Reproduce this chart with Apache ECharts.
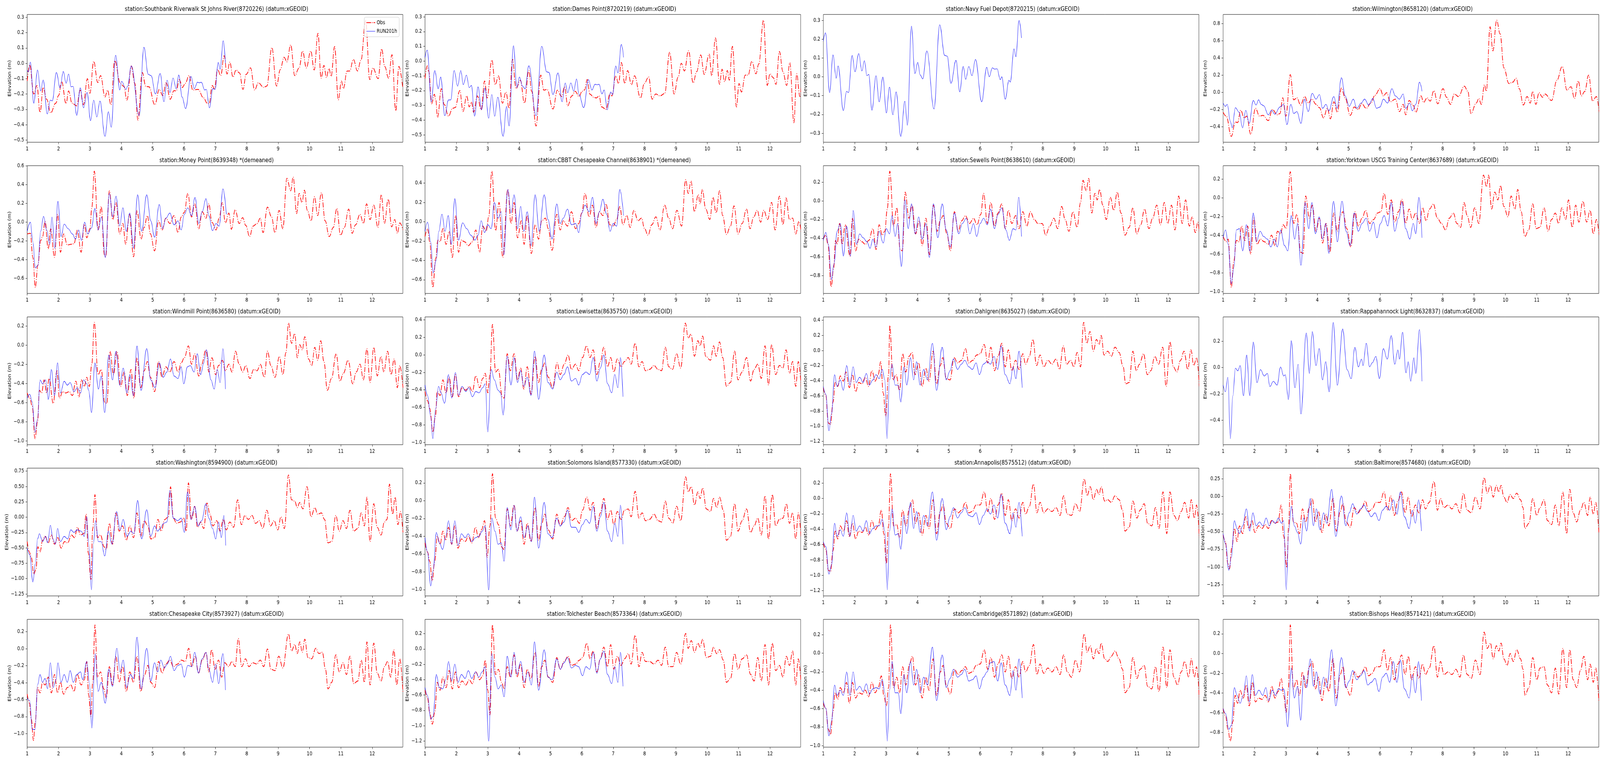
<!DOCTYPE html>
<html><head><meta charset="utf-8">
<script src="https://cdn.jsdelivr.net/npm/echarts@6/dist/echarts.min.js"></script>
<style>html,body{margin:0;padding:0;overflow:hidden;background:#fff}#wrap{position:relative;overflow:hidden;width:5150px;height:1950px}#c{position:absolute;left:0;top:0;width:5150px;height:1950px;transform-origin:0 0}</style>
</head><body><div id="wrap"><div id="c"></div></div>
<script>
// ---------------- DATA (time in days, elevation in m) ----------------
const titles = [
"station:Southbank Riverwalk St Johns River(8720226) (datum:xGEOID)",
"station:Dames Point(8720219) (datum:xGEOID)",
"station:Navy Fuel Depot(8720215) (datum:xGEOID)",
"station:Wilmington(8658120) (datum:xGEOID)",
"station:Money Point(8639348) *(demeaned)",
"station:CBBT Chesapeake Channel(8638901) *(demeaned)",
"station:Sewells Point(8638610) (datum:xGEOID)",
"station:Yorktown USCG Training Center(8637689) (datum:xGEOID)",
"station:Windmill Point(8636580) (datum:xGEOID)",
"station:Lewisetta(8635750) (datum:xGEOID)",
"station:Dahlgren(8635027) (datum:xGEOID)",
"station:Rappahannock Light(8632837) (datum:xGEOID)",
"station:Washington(8594900) (datum:xGEOID)",
"station:Solomons Island(8577330) (datum:xGEOID)",
"station:Annapolis(8575512) (datum:xGEOID)",
"station:Baltimore(8574680) (datum:xGEOID)",
"station:Chesapeake City(8573927) (datum:xGEOID)",
"station:Tolchester Beach(8573364) (datum:xGEOID)",
"station:Cambridge(8571892) (datum:xGEOID)",
"station:Bishops Head(8571421) (datum:xGEOID)"
];
const seriesNames = ["Obs", "RUN201h"];
const xTicks = [1,2,3,4,5,6,7,8,9,10,11,12];
const xRange = [1, 12.975];
const yTicks = [
[-0.5,-0.4,-0.3,-0.2,-0.1,0,0.1,0.2,0.3],
[-0.5,-0.4,-0.3,-0.2,-0.1,0,0.1,0.2,0.3],
[-0.3,-0.2,-0.1,0,0.1,0.2,0.3],
[-0.4,-0.2,0,0.2,0.4,0.6,0.8],
[-0.6,-0.4,-0.2,0,0.2,0.4,0.6],
[-0.6,-0.4,-0.2,0,0.2,0.4],
[-0.8,-0.6,-0.4,-0.2,0,0.2],
[-1.0,-0.8,-0.6,-0.4,-0.2,0,0.2],
[-1.0,-0.8,-0.6,-0.4,-0.2,0,0.2],
[-1.0,-0.8,-0.6,-0.4,-0.2,0,0.2,0.4],
[-1.2,-1.0,-0.8,-0.6,-0.4,-0.2,0,0.2,0.4],
[-0.4,-0.2,0,0.2],
[-1.25,-1.0,-0.75,-0.5,-0.25,0,0.25,0.5,0.75],
[-1.0,-0.8,-0.6,-0.4,-0.2,0,0.2],
[-1.2,-1.0,-0.8,-0.6,-0.4,-0.2,0,0.2],
[-1.25,-1.0,-0.75,-0.5,-0.25,0,0.25],
[-1.0,-0.8,-0.6,-0.4,-0.2,0,0.2],
[-1.2,-1.0,-0.8,-0.6,-0.4,-0.2,0,0.2],
[-1.0,-0.8,-0.6,-0.4,-0.2,0,0.2],
[-0.8,-0.6,-0.4,-0.2,0,0.2]
];
const yDecimals = [1,1,1,1,1,1,1,1,1,1,1,1,2,1,1,2,1,1,1,1];
const yLimits = [
[-0.5145,0.3187],[-0.550,0.316],[-0.348,0.332],[-0.5825,0.9065],
[-0.760,0.6028],[-0.742,0.580],[-0.990,0.376],[-1.021,0.345],
[-1.040,0.297],[-1.027,0.434],[-1.243,0.443],[-0.5855,0.3845],
[-1.282,0.799],[-1.071,0.366],[-1.268,0.394],[-1.409,0.400],
[-1.160,0.346],[-1.280,0.386],[-1.017,0.367],[-0.948,0.3455]
];

const southbankObs = [[1.00,-0.115],[1.08,-0.01],[1.21,-0.20],[1.31,-0.145],[1.41,-0.32],[1.51,-0.157],[1.62,-0.234],[1.75,-0.323],[1.91,-0.26],[2.00,-0.21],[2.10,-0.12],[2.24,-0.263],[2.32,-0.18],[2.43,-0.26],[2.58,-0.277],[2.69,-0.175],[2.79,-0.27],[2.92,-0.10],[3.00,-0.195],[3.12,0.013],[3.25,-0.125],[3.34,-0.08],[3.48,-0.22],[3.56,-0.175],[3.67,-0.27],[3.79,0.017],[3.97,-0.13],[4.08,-0.15],[4.18,-0.24],[4.32,-0.017],[4.43,-0.13],[4.53,-0.37],[4.67,-0.06],[4.78,-0.15],[4.88,-0.153],[5.07,-0.27],[5.21,-0.17],[5.32,-0.21],[5.43,-0.127],[5.56,-0.234],[5.68,-0.178],[5.75,-0.18],[5.85,-0.106],[5.95,-0.157],[6.04,-0.13],[6.16,-0.08],[6.28,-0.174],[6.45,-0.17],[6.62,-0.225],[6.74,-0.26],[6.80,-0.263],[6.90,-0.145],[6.97,-0.165],[7.07,-0.04],[7.17,-0.08],[7.28,0.05],[7.37,-0.07],[7.46,0.008],[7.56,-0.09],[7.66,-0.043],[7.77,-0.063],[7.88,-0.17],[7.98,-0.072],[8.12,-0.03],[8.25,-0.174],[8.37,-0.127],[8.54,-0.157],[8.64,-0.148],[8.80,0.103],[8.95,-0.148],[9.07,-0.04],[9.19,0.04],[9.28,0.01],[9.40,0.12],[9.53,-0.08],[9.67,-0.03],[9.78,0.08],[9.90,-0.03],[10.04,0.08],[10.15,-0.043],[10.27,0.196],[10.37,-0.097],[10.46,-0.013],[10.54,-0.093],[10.62,-0.034],[10.69,-0.085],[10.80,0.11],[10.92,-0.238],[11.02,-0.115],[11.08,-0.165],[11.20,-0.05],[11.28,-0.05],[11.40,0.025],[11.53,-0.05],[11.64,0.02],[11.79,0.277],[11.92,-0.106],[12.02,-0.03],[12.19,-0.10],[12.30,0.094],[12.40,-0.02],[12.52,-0.097],[12.63,0.056],[12.75,-0.31],[12.85,-0.02],[12.97,-0.153]];
const southbankRun = [[1.00,-0.046],[1.04,-0.055],[1.10,0.008],[1.21,-0.26],[1.33,-0.043],[1.43,-0.18],[1.51,-0.108],[1.64,-0.33],[1.74,-0.24],[1.80,-0.245],[1.93,-0.06],[2.05,-0.16],[2.15,-0.053],[2.24,-0.13],[2.32,-0.07],[2.40,-0.153],[2.46,-0.15],[2.58,-0.34],[2.69,-0.16],[2.80,-0.29],[2.91,-0.19],[3.02,-0.374],[3.12,-0.24],[3.22,-0.35],[3.32,-0.246],[3.48,-0.476],[3.59,-0.315],[3.68,-0.417],[3.82,0.053],[3.95,-0.174],[4.01,-0.117],[4.15,-0.17],[4.20,-0.15],[4.32,-0.017],[4.57,-0.34],[4.72,0.105],[4.86,-0.072],[4.95,-0.08],[5.09,-0.20],[5.24,-0.066],[5.36,-0.25],[5.46,-0.11],[5.55,-0.19],[5.65,-0.096],[5.75,-0.165],[5.83,-0.076],[5.94,-0.22],[6.05,-0.295],[6.22,-0.086],[6.33,-0.165],[6.43,-0.123],[6.49,-0.127],[6.55,-0.123],[6.66,-0.174],[6.71,-0.17],[6.81,-0.29],[6.92,-0.165],[6.99,-0.17],[7.09,0.006],[7.15,-0.038],[7.25,0.147],[7.32,0.0]];

const damesObs = [[1.00,-0.117],[1.07,-0.032],[1.12,-0.07],[1.21,-0.29],[1.30,-0.225],[1.34,-0.26],[1.40,-0.382],[1.52,-0.187],[1.61,-0.294],[1.75,-0.373],[1.88,-0.32],[1.96,-0.315],[2.11,-0.2],[2.21,-0.342],[2.33,-0.236],[2.41,-0.31],[2.48,-0.277],[2.55,-0.347],[2.67,-0.236],[2.79,-0.33],[2.90,-0.135],[2.98,-0.25],[3.13,0.007],[3.24,-0.16],[3.34,-0.1],[3.47,-0.285],[3.58,-0.21],[3.68,-0.32],[3.79,0.012],[3.90,-0.187],[4.04,-0.13],[4.17,-0.285],[4.31,-0.064],[4.40,-0.205],[4.54,-0.44],[4.69,-0.095],[4.79,-0.197],[4.89,-0.192],[5.08,-0.325],[5.22,-0.197],[5.35,-0.24],[5.45,-0.175],[5.55,-0.303],[5.68,-0.236],[5.79,-0.205],[5.91,-0.24],[6.01,-0.205],[6.09,-0.195],[6.17,-0.125],[6.26,-0.225],[6.38,-0.245],[6.46,-0.25],[6.55,-0.236],[6.63,-0.31],[6.77,-0.327],[6.90,-0.22],[6.96,-0.236],[7.08,-0.10],[7.17,-0.152],[7.26,-0.01],[7.37,-0.152],[7.46,-0.064],[7.58,-0.16],[7.68,-0.10],[7.87,-0.25],[7.99,-0.152],[8.13,-0.108],[8.24,-0.258],[8.36,-0.223],[8.49,-0.236],[8.64,-0.22],[8.80,0.06],[8.94,-0.223],[9.07,-0.108],[9.17,-0.015],[9.27,-0.067],[9.40,0.07],[9.55,-0.148],[9.66,-0.072],[9.79,0.042],[9.90,-0.09],[10.06,0.047],[10.14,-0.10],[10.26,0.157],[10.39,-0.157],[10.47,-0.055],[10.55,-0.14],[10.64,-0.064],[10.70,-0.13],[10.80,0.10],[10.93,-0.311],[11.01,-0.152],[11.09,-0.21],[11.21,-0.095],[11.30,-0.095],[11.42,-0.002],[11.55,-0.086],[11.64,-0.02],[11.79,0.277],[11.91,-0.165],[12.00,-0.086],[12.10,-0.112],[12.19,-0.157],[12.30,0.065],[12.41,-0.072],[12.53,-0.165],[12.63,-0.01],[12.76,-0.418],[12.85,-0.086],[12.95,-0.24],[13.0,-0.16]];
const damesRun = [[1.00,0.025],[1.07,0.074],[1.20,-0.276],[1.31,-0.064],[1.42,-0.188],[1.50,-0.108],[1.63,-0.37],[1.75,-0.263],[1.82,-0.263],[1.93,-0.064],[2.04,-0.17],[2.14,-0.064],[2.22,-0.16],[2.32,-0.095],[2.41,-0.18],[2.48,-0.165],[2.58,-0.374],[2.69,-0.175],[2.80,-0.33],[2.91,-0.183],[3.03,-0.387],[3.13,-0.227],[3.22,-0.374],[3.32,-0.245],[3.49,-0.51],[3.60,-0.307],[3.68,-0.44],[3.82,0.104],[3.93,-0.18],[4.01,-0.108],[4.11,-0.17],[4.19,-0.188],[4.31,-0.032],[4.54,-0.37],[4.72,0.10],[4.88,-0.073],[4.95,-0.077],[5.08,-0.227],[5.24,-0.08],[5.37,-0.276],[5.47,-0.148],[5.55,-0.214],[5.65,-0.148],[5.74,-0.205],[5.83,-0.121],[5.91,-0.227],[6.06,-0.316],[6.21,-0.125],[6.32,-0.196],[6.42,-0.157],[6.49,-0.16],[6.55,-0.157],[6.64,-0.223],[6.71,-0.196],[6.81,-0.33],[6.92,-0.21],[6.98,-0.227],[7.08,-0.033],[7.15,-0.08],[7.26,0.113],[7.33,0.025]];

const navyRun = [[1.00,0.19],[1.07,0.234],[1.20,-0.084],[1.31,0.117],[1.41,-0.008],[1.47,0.058],[1.64,-0.18],[1.74,-0.077],[1.80,-0.084],[1.92,0.114],[2.01,0.027],[2.13,0.124],[2.23,0.031],[2.31,0.086],[2.39,0.006],[2.45,0.013],[2.55,-0.178],[2.68,0.006],[2.78,-0.133],[2.90,-0.001],[3.01,-0.192],[3.11,-0.055],[3.22,-0.202],[3.32,-0.08],[3.47,-0.317],[3.60,-0.13],[3.68,-0.258],[3.81,0.27],[3.92,0.017],[4.01,0.077],[4.09,0.01],[4.17,-0.011],[4.30,0.138],[4.53,-0.171],[4.71,0.277],[4.87,0.114],[4.95,0.11],[5.07,-0.035],[5.23,0.088],[5.35,-0.08],[5.46,0.056],[5.54,-0.013],[5.64,0.055],[5.74,0.006],[5.85,0.093],[6.05,-0.133],[6.21,0.051],[6.29,0.0],[6.39,0.048],[6.46,0.041],[6.54,0.043],[6.64,-0.015],[6.69,0.0],[6.80,-0.119],[6.92,-0.018],[6.96,-0.028],[7.08,0.149],[7.14,0.107],[7.24,0.30],[7.32,0.207]];

const wilmingtonObs = [[1.00,-0.233],[1.10,-0.28],[1.26,-0.514],[1.39,-0.347],[1.46,-0.354],[1.56,-0.21],[1.67,-0.30],[1.75,-0.278],[1.88,-0.49],[2.03,-0.187],[2.16,-0.278],[2.27,-0.27],[2.44,-0.33],[2.57,-0.202],[2.73,-0.263],[2.81,-0.248],[2.90,-0.065],[3.00,-0.278],[3.14,0.205],[3.25,-0.088],[3.35,-0.065],[3.47,-0.149],[3.60,-0.05],[3.71,-0.126],[3.83,-0.08],[3.96,-0.141],[4.07,-0.18],[4.20,-0.30],[4.32,-0.187],[4.42,-0.31],[4.53,-0.111],[4.64,-0.233],[4.77,0.049],[4.89,-0.065],[5.05,-0.27],[5.18,-0.172],[5.30,-0.202],[5.42,-0.134],[5.56,-0.187],[5.71,-0.126],[5.84,-0.035],[6.00,0.041],[6.11,-0.043],[6.21,-0.005],[6.33,-0.111],[6.49,-0.08],[6.62,-0.225],[6.74,-0.141],[6.82,-0.263],[6.93,-0.096],[7.07,-0.157],[7.14,-0.233],[7.31,-0.043],[7.39,-0.119],[7.50,-0.065],[7.60,-0.103],[7.72,0.018],[7.84,-0.134],[8.01,0.041],[8.12,-0.058],[8.25,-0.141],[8.37,-0.02],[8.50,-0.05],[8.69,0.071],[8.80,0.011],[8.90,-0.248],[9.07,-0.126],[9.15,-0.073],[9.23,-0.141],[9.33,0.087],[9.39,0.011],[9.51,0.764],[9.60,0.482],[9.72,0.84],[9.83,0.68],[9.95,0.284],[10.11,0.102],[10.23,0.117],[10.34,0.163],[10.44,0.041],[10.57,-0.149],[10.69,-0.05],[10.79,-0.126],[10.87,0.011],[10.97,-0.141],[11.07,-0.005],[11.18,-0.058],[11.26,-0.02],[11.47,-0.096],[11.64,0.139],[11.81,0.30],[11.96,0.026],[12.09,0.064],[12.20,-0.073],[12.32,0.132],[12.42,-0.043],[12.53,0.011],[12.65,0.20],[12.78,-0.103],[12.90,-0.05],[12.99,-0.233]];
const wilmingtonRun = [[1.00,-0.126],[1.07,-0.164],[1.13,-0.141],[1.23,-0.34],[1.29,-0.415],[1.39,-0.18],[1.51,-0.233],[1.62,-0.415],[1.72,-0.21],[1.83,-0.362],[1.96,-0.096],[2.05,-0.149],[2.13,-0.088],[2.21,-0.141],[2.29,-0.157],[2.44,-0.263],[2.54,-0.21],[2.65,-0.256],[2.81,-0.172],[2.93,-0.141],[3.03,-0.377],[3.16,-0.141],[3.25,-0.248],[3.35,-0.225],[3.48,-0.362],[3.60,-0.08],[3.71,-0.225],[3.84,-0.012],[3.96,-0.08],[4.07,-0.027],[4.17,-0.187],[4.28,-0.141],[4.37,-0.217],[4.53,-0.05],[4.63,-0.187],[4.77,0.17],[4.89,-0.043],[5.02,-0.164],[5.15,-0.08],[5.26,-0.187],[5.40,-0.126],[5.51,-0.08],[5.64,-0.149],[5.77,-0.073],[5.89,-0.187],[6.00,-0.172],[6.11,-0.08],[6.24,-0.126],[6.38,0.041],[6.49,-0.043],[6.62,-0.08],[6.74,-0.02],[6.82,-0.187],[6.95,-0.126],[7.03,-0.217],[7.14,-0.141],[7.26,0.117],[7.34,0.011]];

const moneyObs = [[1.00,-0.125],[1.10,-0.118],[1.18,-0.375],[1.26,-0.696],[1.34,-0.46],[1.43,-0.195],[1.49,-0.153],[1.57,0.007],[1.67,-0.285],[1.75,-0.07],[1.87,-0.375],[1.97,0.084],[2.06,-0.32],[2.16,-0.125],[2.28,-0.243],[2.39,-0.236],[2.49,-0.229],[2.60,-0.083],[2.72,-0.32],[2.82,-0.02],[2.90,-0.166],[3.00,-0.07],[3.06,0.154],[3.14,0.544],[3.26,-0.083],[3.36,0.168],[3.46,-0.348],[3.50,-0.369],[3.62,0.335],[3.73,0.028],[3.83,0.21],[3.95,-0.125],[4.05,-0.014],[4.14,-0.236],[4.26,0.084],[4.39,-0.369],[4.50,0.126],[4.63,-0.18],[4.73,-0.056],[4.83,0.07],[4.93,-0.125],[5.06,-0.306],[5.19,0.014],[5.30,-0.083],[5.42,0.042],[5.55,-0.014],[5.68,0.07],[5.81,-0.111],[5.91,0.056],[6.01,0.105],[6.12,0.307],[6.24,0.056],[6.34,0.196],[6.47,-0.07],[6.58,0.112],[6.70,0.042],[6.79,0.196],[6.89,0.0],[7.02,-0.083],[7.12,0.042],[7.22,0.21],[7.32,-0.007],[7.43,0.098],[7.51,-0.076],[7.63,0.133],[7.76,-0.014],[7.87,0.049],[7.97,-0.035],[8.09,-0.153],[8.20,-0.042],[8.33,-0.014],[8.43,0.042],[8.52,-0.111],[8.66,0.161],[8.79,0.056],[8.90,-0.111],[9.03,0.126],[9.15,-0.07],[9.28,0.468],[9.40,0.335],[9.48,0.482],[9.59,0.091],[9.67,0.307],[9.76,0.21],[9.84,0.342],[9.93,0.126],[10.05,0.014],[10.16,0.272],[10.26,0.07],[10.38,0.314],[10.50,0.014],[10.63,-0.153],[10.76,-0.056],[10.87,0.147],[10.99,-0.139],[11.11,-0.056],[11.25,0.14],[11.36,-0.118],[11.47,-0.028],[11.61,0.084],[11.72,-0.014],[11.82,0.196],[11.93,0.028],[12.05,0.182],[12.18,-0.056],[12.29,0.293],[12.39,-0.014],[12.51,0.245],[12.62,-0.049],[12.72,0.028],[12.80,-0.118],[12.88,-0.007],[12.98,-0.083]];
const moneyRun = [[1.00,-0.097],[1.10,0.0],[1.18,-0.208],[1.26,-0.488],[1.34,-0.46],[1.43,-0.097],[1.52,0.063],[1.62,-0.083],[1.72,-0.236],[1.79,0.056],[1.88,-0.278],[1.98,0.223],[2.08,-0.153],[2.18,-0.02],[2.31,-0.07],[2.44,-0.125],[2.54,-0.18],[2.64,-0.083],[2.73,-0.194],[2.83,0.0],[2.93,-0.125],[3.05,-0.062],[3.16,0.147],[3.26,-0.083],[3.37,0.056],[3.49,-0.376],[3.62,0.307],[3.73,0.056],[3.83,0.279],[3.95,-0.042],[4.05,0.154],[4.16,-0.097],[4.27,0.098],[4.39,-0.278],[4.52,0.293],[4.65,-0.097],[4.81,0.293],[4.94,0.014],[5.06,-0.16],[5.21,0.189],[5.32,-0.07],[5.42,0.042],[5.55,0.098],[5.68,-0.028],[5.81,0.014],[5.91,-0.083],[6.01,0.084],[6.12,0.154],[6.24,0.07],[6.35,0.265],[6.47,-0.014],[6.58,0.112],[6.70,0.251],[6.79,0.07],[6.91,-0.09],[7.02,-0.014],[7.12,-0.042],[7.24,0.356],[7.35,0.084]];

const cbbtObs = [[1.00,-0.153],[1.08,-0.072],[1.15,-0.207],[1.25,-0.68],[1.34,-0.382],[1.41,-0.19],[1.48,-0.207],[1.57,-0.072],[1.67,-0.234],[1.77,-0.099],[1.87,-0.369],[1.97,0.064],[2.07,-0.315],[2.16,-0.19],[2.26,-0.207],[2.38,-0.248],[2.51,-0.207],[2.62,-0.085],[2.74,-0.315],[2.84,-0.045],[2.95,-0.099],[3.03,0.05],[3.13,0.523],[3.25,-0.092],[3.36,0.2],[3.48,-0.369],[3.64,0.334],[3.74,-0.018],[3.84,0.2],[3.95,-0.166],[4.07,0.01],[4.16,-0.234],[4.26,0.064],[4.39,-0.328],[4.51,-0.031],[4.62,-0.18],[4.72,0.01],[4.84,0.037],[4.93,-0.072],[5.05,-0.295],[5.20,0.077],[5.31,-0.085],[5.41,0.01],[5.54,-0.045],[5.67,0.104],[5.80,-0.072],[5.90,-0.018],[6.00,0.091],[6.10,0.293],[6.23,0.05],[6.34,0.172],[6.45,-0.058],[6.56,0.104],[6.67,0.064],[6.77,0.185],[6.89,-0.031],[7.00,-0.045],[7.11,0.023],[7.21,0.158],[7.31,-0.031],[7.43,0.064],[7.54,-0.058],[7.66,0.118],[7.79,0.01],[7.90,0.037],[8.00,-0.072],[8.11,-0.139],[8.23,-0.031],[8.36,0.05],[8.49,-0.085],[8.64,0.172],[8.77,0.037],[8.89,-0.072],[9.03,0.118],[9.18,-0.045],[9.31,0.435],[9.39,0.293],[9.48,0.422],[9.59,0.104],[9.71,0.28],[9.77,0.185],[9.84,0.334],[9.95,0.131],[10.08,0.023],[10.18,0.253],[10.28,0.091],[10.39,0.32],[10.49,0.064],[10.61,-0.132],[10.74,-0.045],[10.85,0.165],[10.98,-0.126],[11.11,-0.018],[11.25,0.131],[11.36,-0.072],[11.48,0.05],[11.59,0.118],[11.70,-0.004],[11.80,0.118],[11.92,0.023],[12.05,0.2],[12.16,-0.085],[12.30,0.266],[12.41,-0.031],[12.51,0.246],[12.62,0.023],[12.72,0.037],[12.82,-0.126],[12.92,0.003],[13.0,-0.126]];
const cbbtRun = [[1.00,-0.099],[1.08,-0.004],[1.18,-0.207],[1.26,-0.53],[1.36,-0.396],[1.44,-0.099],[1.54,0.077],[1.64,-0.099],[1.74,0.064],[1.84,-0.234],[1.95,0.239],[2.07,-0.19],[2.20,-0.011],[2.33,-0.072],[2.46,-0.139],[2.59,-0.19],[2.69,-0.139],[2.79,0.01],[2.90,-0.112],[3.00,-0.031],[3.11,-0.072],[3.21,0.2],[3.33,0.037],[3.43,0.104],[3.51,-0.342],[3.64,0.334],[3.74,0.091],[3.84,0.28],[3.95,-0.072],[4.05,0.158],[4.15,-0.099],[4.26,0.104],[4.38,-0.248],[4.51,0.28],[4.64,-0.099],[4.80,0.28],[4.92,0.023],[5.05,-0.18],[5.20,0.185],[5.31,-0.018],[5.41,0.037],[5.54,0.131],[5.67,-0.031],[5.80,-0.018],[5.90,-0.112],[6.00,0.091],[6.10,0.172],[6.23,0.104],[6.34,0.253],[6.45,-0.018],[6.56,0.104],[6.67,0.233],[6.79,0.077],[6.90,-0.099],[7.00,-0.018],[7.11,-0.045],[7.21,0.334],[7.33,0.064]];

const sewellsObs = [[1.00,-0.41],[1.08,-0.367],[1.15,-0.465],[1.25,-0.919],[1.33,-0.716],[1.39,-0.423],[1.44,-0.465],[1.52,-0.242],[1.60,-0.465],[1.70,-0.256],[1.85,-0.591],[1.93,-0.186],[2.03,-0.535],[2.13,-0.41],[2.23,-0.437],[2.34,-0.465],[2.45,-0.423],[2.58,-0.297],[2.68,-0.52],[2.78,-0.256],[2.88,-0.367],[2.96,-0.325],[3.04,-0.088],[3.12,0.317],[3.24,-0.27],[3.34,-0.074],[3.45,-0.52],[3.52,-0.535],[3.61,0.094],[3.73,-0.186],[3.83,-0.046],[3.94,-0.353],[4.06,-0.214],[4.15,-0.479],[4.27,-0.186],[4.39,-0.577],[4.51,-0.046],[4.63,-0.325],[4.74,-0.2],[4.82,-0.158],[4.94,-0.353],[5.05,-0.535],[5.18,-0.116],[5.30,-0.325],[5.41,-0.214],[5.53,-0.158],[5.66,-0.242],[5.79,-0.186],[5.90,-0.256],[6.02,-0.144],[6.11,0.08],[6.23,-0.242],[6.34,-0.018],[6.46,-0.27],[6.57,-0.13],[6.69,-0.032],[6.80,-0.297],[6.90,-0.102],[7.01,-0.242],[7.13,-0.158],[7.24,-0.297],[7.36,-0.116],[7.49,-0.27],[7.60,-0.116],[7.73,-0.2],[7.84,-0.242],[7.98,-0.242],[8.09,-0.367],[8.22,-0.27],[8.35,-0.186],[8.47,-0.297],[8.60,-0.06],[8.71,-0.2],[8.83,-0.325],[8.96,-0.116],[9.09,-0.283],[9.20,-0.018],[9.28,0.22],[9.38,0.108],[9.46,0.24],[9.56,-0.13],[9.66,0.08],[9.73,0.01],[9.81,0.122],[9.91,-0.046],[10.02,-0.2],[10.15,0.038],[10.26,-0.102],[10.37,0.094],[10.49,-0.13],[10.62,-0.367],[10.75,-0.283],[10.87,-0.074],[10.99,-0.353],[11.12,-0.256],[11.24,-0.088],[11.38,-0.297],[11.50,-0.186],[11.63,-0.046],[11.75,-0.256],[11.87,-0.018],[11.98,-0.242],[12.10,-0.046],[12.21,-0.311],[12.33,0.052],[12.44,-0.242],[12.55,0.01],[12.67,-0.27],[12.76,-0.172],[12.86,-0.339],[12.94,-0.228],[12.99,-0.339]];
const sewellsRun = [[1.00,-0.423],[1.08,-0.339],[1.16,-0.465],[1.26,-0.842],[1.34,-0.675],[1.44,-0.325],[1.54,-0.242],[1.64,-0.591],[1.74,-0.27],[1.87,-0.591],[1.95,-0.102],[2.06,-0.465],[2.16,-0.353],[2.27,-0.395],[2.39,-0.437],[2.49,-0.507],[2.58,-0.41],[2.68,-0.493],[2.78,-0.325],[2.91,-0.451],[3.01,-0.297],[3.11,-0.353],[3.19,-0.158],[3.29,-0.381],[3.37,-0.242],[3.49,-0.702],[3.60,0.01],[3.71,-0.297],[3.81,-0.032],[3.93,-0.353],[4.04,-0.172],[4.15,-0.41],[4.27,-0.242],[4.38,-0.605],[4.51,-0.032],[4.65,-0.395],[4.79,-0.032],[4.92,-0.311],[5.05,-0.493],[5.18,-0.13],[5.32,-0.353],[5.43,-0.242],[5.56,-0.186],[5.67,-0.353],[5.79,-0.242],[5.89,-0.381],[6.00,-0.242],[6.11,-0.186],[6.23,-0.256],[6.33,-0.088],[6.46,-0.297],[6.57,-0.144],[6.69,-0.074],[6.82,-0.311],[6.93,-0.423],[7.05,-0.297],[7.14,-0.311],[7.23,0.038],[7.32,-0.381]];

const yorktownObs = [[1.00,-0.412],[1.10,-0.468],[1.16,-0.44],[1.26,-0.956],[1.34,-0.677],[1.42,-0.454],[1.51,-0.468],[1.59,-0.3],[1.69,-0.454],[1.78,-0.3],[1.88,-0.6],[1.98,-0.216],[2.08,-0.496],[2.19,-0.44],[2.31,-0.468],[2.44,-0.496],[2.54,-0.398],[2.65,-0.51],[2.73,-0.356],[2.83,-0.384],[2.91,-0.286],[3.01,-0.328],[3.14,0.28],[3.25,-0.272],[3.35,-0.175],[3.47,-0.579],[3.55,-0.593],[3.63,0.021],[3.75,-0.216],[3.84,-0.077],[3.96,-0.356],[4.07,-0.216],[4.17,-0.482],[4.28,-0.272],[4.40,-0.579],[4.53,-0.161],[4.64,-0.356],[4.74,-0.188],[4.82,-0.147],[4.94,-0.328],[5.07,-0.524],[5.20,-0.147],[5.31,-0.3],[5.43,-0.216],[5.54,-0.133],[5.67,-0.272],[5.80,-0.23],[5.92,-0.161],[6.03,-0.147],[6.13,0.049],[6.25,-0.175],[6.36,-0.021],[6.47,-0.258],[6.59,-0.147],[6.70,-0.014],[6.82,-0.272],[6.93,-0.119],[7.03,-0.23],[7.14,-0.161],[7.26,-0.272],[7.36,-0.105],[7.47,-0.244],[7.58,-0.119],[7.70,-0.063],[7.83,-0.216],[7.96,-0.272],[8.09,-0.342],[8.21,-0.216],[8.34,-0.161],[8.45,-0.272],[8.57,-0.314],[8.68,-0.049],[8.78,-0.188],[8.89,-0.314],[9.02,-0.105],[9.15,-0.272],[9.30,0.245],[9.40,0.119],[9.46,0.245],[9.56,-0.119],[9.66,0.063],[9.76,-0.021],[9.84,0.133],[9.95,-0.091],[10.08,-0.202],[10.18,0.021],[10.30,-0.119],[10.39,0.091],[10.50,-0.147],[10.62,-0.412],[10.74,-0.342],[10.87,-0.063],[10.98,-0.328],[11.10,-0.314],[11.23,-0.105],[11.36,-0.356],[11.47,-0.23],[11.59,-0.161],[11.69,-0.272],[11.80,-0.105],[11.92,-0.23],[12.01,-0.021],[12.13,-0.314],[12.24,-0.077],[12.34,-0.258],[12.47,-0.035],[12.59,-0.258],[12.70,-0.133],[12.80,-0.384],[12.90,-0.23],[12.99,-0.398]];
const yorktownRun = [[1.00,-0.426],[1.08,-0.342],[1.16,-0.496],[1.26,-0.915],[1.34,-0.747],[1.42,-0.342],[1.52,-0.328],[1.62,-0.566],[1.74,-0.286],[1.85,-0.566],[1.96,-0.161],[2.06,-0.468],[2.18,-0.356],[2.29,-0.412],[2.41,-0.44],[2.52,-0.524],[2.63,-0.44],[2.73,-0.524],[2.83,-0.342],[2.96,-0.51],[3.06,-0.566],[3.17,-0.188],[3.28,-0.44],[3.37,-0.272],[3.48,-0.719],[3.61,-0.049],[3.73,-0.328],[3.83,-0.049],[3.94,-0.384],[4.06,-0.202],[4.17,-0.44],[4.27,-0.272],[4.37,-0.593],[4.52,-0.035],[4.64,-0.468],[4.79,-0.035],[4.92,-0.356],[5.05,-0.51],[5.18,-0.161],[5.31,-0.356],[5.43,-0.272],[5.56,-0.216],[5.67,-0.356],[5.79,-0.258],[5.90,-0.426],[6.02,-0.272],[6.13,-0.188],[6.25,-0.3],[6.36,-0.049],[6.47,-0.356],[6.59,-0.216],[6.70,-0.042],[6.82,-0.328],[6.95,-0.44],[7.06,-0.272],[7.14,-0.384],[7.24,0.007],[7.34,-0.426]];

const windmillObs = [[1.00,-0.499],[1.08,-0.553],[1.16,-0.635],[1.25,-0.977],[1.33,-0.8],[1.39,-0.471],[1.46,-0.499],[1.54,-0.362],[1.62,-0.499],[1.70,-0.348],[1.83,-0.608],[1.95,-0.266],[2.03,-0.553],[2.13,-0.485],[2.23,-0.499],[2.34,-0.485],[2.44,-0.526],[2.55,-0.376],[2.65,-0.54],[2.73,-0.362],[2.82,-0.431],[2.90,-0.335],[2.98,-0.431],[3.06,-0.198],[3.14,0.24],[3.26,-0.307],[3.36,-0.253],[3.47,-0.594],[3.54,-0.608],[3.64,-0.062],[3.75,-0.307],[3.86,-0.062],[3.98,-0.431],[4.09,-0.28],[4.19,-0.526],[4.31,-0.253],[4.40,-0.553],[4.50,-0.13],[4.62,-0.444],[4.73,-0.266],[4.83,-0.17],[4.93,-0.335],[5.06,-0.485],[5.19,-0.17],[5.30,-0.335],[5.42,-0.225],[5.55,-0.28],[5.68,-0.17],[5.81,-0.28],[5.91,-0.184],[6.01,-0.13],[6.14,-0.007],[6.24,-0.198],[6.34,-0.089],[6.47,-0.321],[6.56,-0.198],[6.70,-0.048],[6.79,-0.28],[6.89,-0.13],[7.01,-0.307],[7.10,-0.212],[7.22,-0.157],[7.32,-0.266],[7.43,-0.198],[7.53,-0.28],[7.64,-0.062],[7.76,-0.198],[7.87,-0.28],[7.97,-0.212],[8.10,-0.348],[8.22,-0.253],[8.33,-0.266],[8.43,-0.198],[8.56,-0.335],[8.66,-0.062],[8.77,-0.212],[8.90,-0.335],[9.04,-0.116],[9.15,-0.307],[9.25,-0.075],[9.33,0.233],[9.43,0.021],[9.53,0.123],[9.61,-0.13],[9.69,0.007],[9.77,-0.048],[9.85,0.089],[9.97,-0.143],[10.07,-0.212],[10.17,-0.021],[10.26,-0.157],[10.36,0.048],[10.46,-0.17],[10.57,-0.471],[10.70,-0.348],[10.85,-0.089],[10.97,-0.376],[11.08,-0.294],[11.23,-0.157],[11.38,-0.403],[11.49,-0.28],[11.61,-0.198],[11.72,-0.362],[11.83,-0.034],[11.93,-0.39],[12.05,-0.021],[12.16,-0.321],[12.28,-0.116],[12.37,-0.28],[12.49,-0.062],[12.60,-0.307],[12.70,-0.143],[12.80,-0.444],[12.88,-0.212],[12.98,-0.444]];
const windmillRun = [[1.00,-0.553],[1.08,-0.512],[1.16,-0.594],[1.25,-0.909],[1.33,-0.772],[1.41,-0.362],[1.49,-0.403],[1.59,-0.362],[1.67,-0.567],[1.77,-0.253],[1.87,-0.526],[1.97,-0.184],[2.06,-0.499],[2.18,-0.376],[2.28,-0.417],[2.37,-0.39],[2.49,-0.485],[2.60,-0.444],[2.70,-0.499],[2.80,-0.362],[2.90,-0.403],[2.96,-0.471],[3.05,-0.704],[3.16,-0.184],[3.27,-0.458],[3.36,-0.321],[3.47,-0.704],[3.60,-0.103],[3.72,-0.362],[3.83,-0.062],[3.95,-0.417],[4.06,-0.239],[4.18,-0.499],[4.27,-0.307],[4.39,-0.526],[4.50,-0.007],[4.63,-0.471],[4.81,-0.034],[4.94,-0.362],[5.08,-0.444],[5.21,-0.184],[5.34,-0.335],[5.45,-0.28],[5.57,-0.143],[5.68,-0.321],[5.81,-0.348],[5.91,-0.225],[5.99,-0.403],[6.11,-0.225],[6.20,-0.212],[6.32,-0.28],[6.42,-0.089],[6.53,-0.307],[6.63,-0.184],[6.71,-0.048],[6.86,-0.362],[6.96,-0.458],[7.06,-0.253],[7.15,-0.39],[7.24,-0.034],[7.32,-0.458]];

const lewisettaObs = [[1.00,-0.419],[1.08,-0.524],[1.15,-0.613],[1.25,-0.882],[1.33,-0.703],[1.39,-0.419],[1.48,-0.464],[1.57,-0.285],[1.67,-0.434],[1.77,-0.255],[1.87,-0.479],[1.97,-0.225],[2.07,-0.479],[2.18,-0.375],[2.30,-0.404],[2.41,-0.36],[2.51,-0.419],[2.62,-0.24],[2.74,-0.375],[2.84,-0.27],[2.92,-0.21],[3.00,-0.434],[3.07,-0.225],[3.15,0.349],[3.25,-0.195],[3.34,-0.166],[3.46,-0.479],[3.52,-0.494],[3.62,0.013],[3.72,-0.181],[3.84,0.013],[3.95,-0.285],[4.05,-0.151],[4.15,-0.39],[4.26,-0.136],[4.38,-0.449],[4.51,-0.016],[4.62,-0.315],[4.72,-0.166],[4.82,-0.091],[4.93,-0.255],[5.07,-0.375],[5.21,-0.091],[5.31,-0.225],[5.44,-0.106],[5.56,-0.001],[5.67,-0.166],[5.80,-0.106],[5.90,-0.181],[6.02,-0.031],[6.15,0.103],[6.26,-0.031],[6.36,0.058],[6.48,-0.225],[6.59,-0.076],[6.70,0.088],[6.82,-0.136],[6.92,-0.031],[7.02,-0.196],[7.13,-0.046],[7.25,-0.136],[7.36,-0.076],[7.48,-0.031],[7.57,-0.106],[7.70,0.133],[7.82,-0.136],[7.92,-0.076],[8.03,-0.181],[8.16,-0.166],[8.30,-0.121],[8.43,-0.166],[8.54,-0.181],[8.66,0.088],[8.77,-0.136],[8.89,-0.166],[9.02,0.013],[9.15,-0.151],[9.30,0.364],[9.39,0.192],[9.48,0.237],[9.59,-0.016],[9.70,0.163],[9.77,0.103],[9.85,0.215],[9.95,-0.016],[10.10,-0.061],[10.20,0.103],[10.28,-0.016],[10.39,0.148],[10.49,-0.031],[10.61,-0.36],[10.74,-0.315],[10.87,0.043],[10.98,-0.285],[11.11,-0.196],[11.25,-0.031],[11.38,-0.3],[11.49,-0.166],[11.61,-0.106],[11.72,-0.27],[11.84,0.103],[11.95,-0.345],[12.05,0.118],[12.18,-0.225],[12.30,-0.121],[12.41,-0.151],[12.51,0.058],[12.62,-0.21],[12.72,-0.076],[12.82,-0.36],[12.90,-0.076],[13.0,-0.404]];
const lewisettaRun = [[1.00,-0.345],[1.08,-0.464],[1.18,-0.703],[1.25,-0.957],[1.34,-0.613],[1.43,-0.36],[1.51,-0.434],[1.62,-0.553],[1.75,-0.225],[1.85,-0.494],[1.97,-0.203],[2.07,-0.464],[2.18,-0.36],[2.30,-0.419],[2.39,-0.375],[2.51,-0.479],[2.62,-0.419],[2.72,-0.434],[2.84,-0.375],[2.92,-0.33],[3.00,-0.882],[3.11,-0.166],[3.21,-0.285],[3.33,-0.404],[3.41,-0.434],[3.49,-0.688],[3.62,-0.016],[3.74,-0.345],[3.84,-0.031],[3.95,-0.315],[4.05,-0.181],[4.15,-0.36],[4.26,-0.255],[4.38,-0.464],[4.49,0.043],[4.62,-0.509],[4.80,-0.001],[4.92,-0.315],[5.07,-0.39],[5.20,-0.196],[5.31,-0.285],[5.43,-0.225],[5.54,-0.136],[5.67,-0.3],[5.80,-0.27],[5.90,-0.345],[6.02,-0.225],[6.13,-0.196],[6.25,-0.225],[6.36,-0.031],[6.48,-0.3],[6.59,-0.151],[6.70,-0.001],[6.82,-0.33],[6.95,-0.434],[7.05,-0.225],[7.15,-0.375],[7.23,-0.031],[7.31,-0.479]];

const dahlgrenObs = [[1.00,-0.491],[1.08,-0.595],[1.16,-0.957],[1.23,-0.974],[1.31,-0.681],[1.38,-0.422],[1.46,-0.474],[1.54,-0.336],[1.64,-0.405],[1.72,-0.284],[1.83,-0.491],[1.93,-0.319],[2.03,-0.543],[2.13,-0.422],[2.23,-0.44],[2.34,-0.353],[2.44,-0.474],[2.55,-0.267],[2.65,-0.405],[2.75,-0.319],[2.83,-0.147],[2.91,-0.561],[2.99,-0.871],[3.08,-0.319],[3.12,0.328],[3.22,-0.388],[3.32,-0.319],[3.43,-0.526],[3.53,-0.043],[3.63,-0.284],[3.73,-0.078],[3.83,-0.026],[3.92,-0.319],[4.04,-0.164],[4.15,-0.474],[4.27,-0.233],[4.37,-0.405],[4.50,-0.009],[4.61,-0.44],[4.73,-0.198],[4.81,-0.095],[4.92,-0.371],[5.04,-0.388],[5.17,-0.095],[5.28,-0.164],[5.41,-0.129],[5.53,0.026],[5.64,-0.164],[5.77,-0.129],[5.89,-0.06],[6.00,-0.043],[6.13,0.078],[6.24,-0.164],[6.34,0.043],[6.46,-0.267],[6.57,-0.078],[6.69,0.095],[6.80,-0.216],[6.90,0.009],[7.01,-0.267],[7.13,-0.129],[7.24,-0.25],[7.36,-0.043],[7.45,-0.181],[7.57,-0.078],[7.68,0.147],[7.80,-0.198],[7.91,-0.06],[8.03,-0.216],[8.16,-0.129],[8.29,-0.181],[8.42,-0.112],[8.53,-0.25],[8.65,0.06],[8.76,-0.181],[8.88,-0.129],[8.99,-0.216],[9.09,-0.026],[9.20,-0.216],[9.30,0.371],[9.40,0.095],[9.50,0.25],[9.61,-0.009],[9.71,0.147],[9.79,0.078],[9.86,0.198],[9.95,-0.06],[10.07,-0.009],[10.18,-0.078],[10.30,0.043],[10.43,-0.026],[10.56,-0.216],[10.64,-0.44],[10.75,-0.422],[10.87,-0.009],[10.98,-0.267],[11.08,-0.181],[11.21,-0.043],[11.33,-0.319],[11.44,-0.267],[11.57,-0.078],[11.69,-0.181],[11.82,0.043],[11.93,-0.474],[12.05,0.112],[12.16,-0.216],[12.27,-0.284],[12.39,-0.129],[12.50,-0.009],[12.62,-0.25],[12.72,0.009],[12.81,-0.198],[12.90,-0.095],[12.99,-0.474]];
const dahlgrenRun = [[1.00,-0.474],[1.08,-0.578],[1.18,-1.06],[1.26,-0.836],[1.36,-0.319],[1.44,-0.474],[1.54,-0.388],[1.64,-0.526],[1.74,-0.198],[1.85,-0.457],[1.95,-0.216],[2.05,-0.422],[2.16,-0.353],[2.27,-0.422],[2.37,-0.302],[2.47,-0.457],[2.58,-0.388],[2.68,-0.319],[2.78,-0.371],[2.88,-0.25],[2.96,-0.388],[3.03,-1.164],[3.11,-0.388],[3.19,-0.181],[3.29,-0.457],[3.39,-0.457],[3.47,-0.681],[3.57,-0.216],[3.66,-0.457],[3.78,-0.095],[3.88,-0.388],[3.97,-0.147],[4.09,-0.457],[4.20,-0.25],[4.32,-0.388],[4.48,0.095],[4.61,-0.526],[4.79,0.043],[4.92,-0.388],[5.04,-0.267],[5.15,-0.112],[5.28,-0.25],[5.40,-0.181],[5.51,-0.129],[5.64,-0.216],[5.75,-0.25],[5.87,-0.164],[5.98,-0.319],[6.10,-0.181],[6.22,-0.147],[6.33,-0.181],[6.44,-0.078],[6.56,-0.25],[6.67,0.06],[6.80,-0.319],[6.95,-0.44],[7.05,-0.216],[7.14,-0.371],[7.24,-0.009],[7.34,-0.491]];

const rappahannockRun = [[1.00,-0.133],[1.07,-0.183],[1.15,-0.074],[1.23,-0.54],[1.31,-0.214],[1.39,-0.005],[1.47,-0.025],[1.54,0.015],[1.65,-0.214],[1.75,0.095],[1.85,-0.214],[1.96,0.194],[2.08,-0.114],[2.19,-0.015],[2.31,-0.064],[2.41,-0.045],[2.49,-0.144],[2.60,-0.104],[2.72,-0.133],[2.83,0.005],[2.93,-0.064],[2.98,-0.055],[3.08,-0.243],[3.17,0.204],[3.29,-0.153],[3.39,0.025],[3.48,-0.352],[3.65,0.263],[3.75,-0.045],[3.84,0.273],[3.96,0.015],[4.06,0.144],[4.17,-0.094],[4.27,0.045],[4.38,-0.184],[4.51,0.343],[4.64,-0.134],[4.81,0.293],[4.95,-0.015],[5.08,-0.084],[5.20,0.154],[5.31,0.005],[5.41,0.064],[5.46,0.015],[5.56,0.184],[5.67,0.005],[5.75,0.035],[5.87,0.084],[5.98,-0.084],[6.11,0.144],[6.23,0.064],[6.36,0.243],[6.47,0.025],[6.57,0.134],[6.62,0.064],[6.72,0.268],[6.83,-0.04],[6.90,0.045],[6.98,-0.104],[7.08,0.074],[7.14,-0.045],[7.26,0.288],[7.34,-0.104]];

const washingtonObs = [[1.00,-0.397],[1.07,-0.567],[1.13,-0.652],[1.21,-0.929],[1.28,-0.844],[1.34,-0.482],[1.41,-0.567],[1.49,-0.376],[1.57,-0.312],[1.67,-0.418],[1.77,-0.29],[1.87,-0.439],[1.98,-0.333],[2.08,-0.503],[2.19,-0.397],[2.29,-0.418],[2.41,-0.29],[2.51,-0.333],[2.60,-0.163],[2.70,-0.29],[2.80,-0.269],[2.88,0.05],[2.95,-0.588],[3.03,-1.014],[3.09,-0.184],[3.16,0.369],[3.24,-0.333],[3.34,-0.29],[3.45,-0.482],[3.52,-0.524],[3.62,-0.099],[3.72,-0.439],[3.83,0.07],[3.93,-0.227],[4.04,-0.142],[4.16,-0.376],[4.27,-0.142],[4.39,-0.333],[4.50,0.07],[4.62,-0.312],[4.73,-0.057],[4.85,-0.142],[4.94,-0.354],[5.06,-0.333],[5.17,-0.036],[5.27,-0.227],[5.39,-0.036],[5.50,0.006],[5.57,0.497],[5.66,-0.015],[5.76,-0.1],[5.88,-0.079],[5.99,-0.015],[6.07,-0.227],[6.14,0.561],[6.24,-0.036],[6.34,0.177],[6.43,-0.163],[6.53,-0.079],[6.63,-0.184],[6.73,0.231],[6.83,0.049],[6.92,-0.142],[7.04,-0.057],[7.15,-0.227],[7.25,-0.036],[7.35,-0.206],[7.46,-0.079],[7.58,-0.163],[7.71,0.284],[7.83,-0.121],[7.94,0.028],[8.05,-0.036],[8.17,0.028],[8.28,-0.1],[8.40,-0.057],[8.51,-0.184],[8.64,0.113],[8.76,-0.142],[8.87,-0.057],[8.99,-0.206],[9.09,0.006],[9.20,-0.184],[9.33,0.688],[9.43,0.284],[9.53,0.262],[9.61,0.156],[9.69,0.241],[9.79,0.135],[9.92,0.497],[10.05,0.006],[10.17,0.156],[10.26,0.049],[10.38,0.07],[10.48,-0.036],[10.59,-0.418],[10.71,-0.397],[10.84,0.028],[10.95,-0.227],[11.07,-0.057],[11.18,-0.184],[11.29,0.113],[11.41,-0.227],[11.54,-0.184],[11.65,0.07],[11.75,-0.142],[11.83,0.327],[11.93,-0.397],[12.05,0.22],[12.16,-0.163],[12.28,-0.29],[12.39,-0.079],[12.47,-0.036],[12.55,0.539],[12.65,0.049],[12.73,0.327],[12.82,-0.121],[12.90,0.092],[12.98,-0.248]];
const washingtonRun = [[1.00,-0.503],[1.08,-0.61],[1.18,-1.056],[1.26,-0.759],[1.33,-0.354],[1.39,-0.269],[1.49,-0.397],[1.59,-0.312],[1.65,-0.418],[1.74,-0.132],[1.82,-0.354],[1.90,-0.439],[1.97,-0.184],[2.06,-0.397],[2.18,-0.312],[2.29,-0.354],[2.39,-0.206],[2.49,-0.248],[2.60,-0.206],[2.72,-0.227],[2.82,-0.312],[2.90,0.006],[2.96,-0.439],[3.05,-1.184],[3.11,-0.439],[3.18,-0.057],[3.27,-0.397],[3.36,-0.397],[3.47,-0.631],[3.59,-0.227],[3.70,-0.439],[3.85,0.091],[3.96,-0.206],[4.06,-0.036],[4.18,-0.312],[4.31,-0.227],[4.40,-0.269],[4.52,0.273],[4.65,-0.354],[4.81,0.123],[4.94,-0.312],[5.06,-0.142],[5.16,-0.227],[5.24,-0.184],[5.35,-0.1],[5.45,-0.079],[5.55,0.433],[5.66,-0.015],[5.80,-0.057],[5.91,-0.015],[6.01,-0.248],[6.11,0.411],[6.22,-0.036],[6.34,0.177],[6.45,-0.142],[6.56,-0.057],[6.70,0.22],[6.79,-0.015],[6.91,-0.184],[7.01,-0.354],[7.10,-0.079],[7.19,-0.333],[7.27,0.028],[7.33,-0.461]];

const solomonsObs = [[1.00,-0.475],[1.08,-0.578],[1.15,-0.681],[1.23,-0.901],[1.31,-0.681],[1.39,-0.401],[1.48,-0.49],[1.57,-0.343],[1.66,-0.446],[1.75,-0.299],[1.85,-0.49],[1.95,-0.284],[2.05,-0.534],[2.16,-0.431],[2.28,-0.46],[2.38,-0.401],[2.49,-0.475],[2.61,-0.299],[2.70,-0.416],[2.80,-0.328],[2.90,-0.225],[2.98,-0.637],[3.07,-0.284],[3.15,0.304],[3.25,-0.196],[3.34,-0.269],[3.44,-0.519],[3.52,-0.549],[3.62,-0.093],[3.72,-0.284],[3.84,-0.049],[3.93,-0.343],[4.05,-0.225],[4.16,-0.49],[4.26,-0.254],[4.38,-0.46],[4.51,-0.078],[4.62,-0.446],[4.72,-0.254],[4.82,-0.151],[4.93,-0.328],[5.07,-0.431],[5.20,-0.151],[5.31,-0.284],[5.44,-0.181],[5.56,-0.078],[5.67,-0.225],[5.80,-0.196],[5.92,-0.254],[6.02,-0.107],[6.16,0.04],[6.26,-0.107],[6.36,-0.019],[6.48,-0.313],[6.59,-0.137],[6.70,0.025],[6.82,-0.21],[6.92,-0.107],[7.02,-0.269],[7.13,-0.122],[7.25,-0.21],[7.36,-0.107],[7.48,-0.093],[7.57,-0.181],[7.70,0.106],[7.82,-0.196],[7.92,-0.137],[8.03,-0.225],[8.16,-0.21],[8.30,-0.151],[8.43,-0.225],[8.54,-0.24],[8.66,-0.004],[8.77,-0.196],[8.90,-0.254],[9.02,-0.063],[9.15,-0.225],[9.31,0.268],[9.39,0.099],[9.49,0.157],[9.59,-0.049],[9.70,0.099],[9.77,0.025],[9.85,0.143],[9.97,-0.093],[10.10,-0.122],[10.20,0.025],[10.30,-0.078],[10.39,0.04],[10.51,-0.107],[10.61,-0.446],[10.74,-0.401],[10.87,-0.034],[10.98,-0.343],[11.11,-0.225],[11.25,-0.093],[11.38,-0.357],[11.49,-0.284],[11.61,-0.196],[11.72,-0.387],[11.84,0.054],[11.95,-0.431],[12.07,0.069],[12.18,-0.284],[12.30,-0.21],[12.41,-0.196],[12.52,-0.034],[12.62,-0.254],[12.72,-0.137],[12.82,-0.431],[12.90,-0.137],[13.0,-0.46]];
const solomonsRun = [[1.00,-0.416],[1.08,-0.578],[1.18,-0.96],[1.26,-0.784],[1.36,-0.357],[1.46,-0.475],[1.56,-0.549],[1.66,-0.401],[1.75,-0.225],[1.85,-0.49],[1.95,-0.225],[2.05,-0.504],[2.16,-0.372],[2.28,-0.416],[2.38,-0.372],[2.49,-0.46],[2.61,-0.416],[2.72,-0.401],[2.82,-0.343],[2.92,-0.284],[3.03,-1.004],[3.13,-0.196],[3.23,-0.343],[3.33,-0.49],[3.43,-0.475],[3.52,-0.681],[3.62,-0.078],[3.74,-0.328],[3.84,-0.049],[3.93,-0.343],[4.05,-0.181],[4.16,-0.416],[4.28,-0.284],[4.39,-0.46],[4.49,0.04],[4.62,-0.534],[4.80,-0.019],[4.92,-0.372],[5.05,-0.416],[5.20,-0.196],[5.31,-0.284],[5.43,-0.24],[5.54,-0.107],[5.67,-0.299],[5.80,-0.299],[5.90,-0.357],[6.02,-0.269],[6.13,-0.21],[6.25,-0.254],[6.36,-0.063],[6.48,-0.343],[6.59,-0.181],[6.70,-0.019],[6.82,-0.343],[6.95,-0.46],[7.05,-0.254],[7.15,-0.401],[7.23,-0.049],[7.31,-0.49]];

const annapolisObs = [[1.00,-0.578],[1.08,-0.662],[1.16,-0.934],[1.23,-0.951],[1.31,-0.679],[1.38,-0.425],[1.46,-0.527],[1.54,-0.357],[1.64,-0.425],[1.74,-0.289],[1.83,-0.493],[1.93,-0.323],[2.03,-0.527],[2.13,-0.425],[2.24,-0.442],[2.34,-0.374],[2.44,-0.476],[2.55,-0.289],[2.65,-0.408],[2.75,-0.357],[2.85,-0.153],[2.93,-0.459],[3.01,-0.849],[3.08,-0.357],[3.14,0.322],[3.24,-0.357],[3.34,-0.34],[3.43,-0.51],[3.53,-0.153],[3.63,-0.357],[3.75,-0.119],[3.84,-0.017],[3.94,-0.323],[4.04,-0.187],[4.15,-0.476],[4.27,-0.221],[4.37,-0.391],[4.50,-0.017],[4.61,-0.459],[4.73,-0.17],[4.82,-0.085],[4.92,-0.323],[5.05,-0.391],[5.18,-0.136],[5.30,-0.187],[5.41,-0.153],[5.53,-0.051],[5.64,-0.187],[5.75,-0.17],[5.87,-0.085],[6.00,-0.085],[6.13,0.085],[6.24,-0.17],[6.34,0.0],[6.46,-0.272],[6.57,-0.085],[6.69,0.068],[6.80,-0.221],[6.90,-0.017],[7.01,-0.289],[7.13,-0.136],[7.24,-0.255],[7.36,-0.051],[7.45,-0.204],[7.57,-0.102],[7.70,0.186],[7.81,-0.187],[7.91,-0.051],[8.03,-0.187],[8.16,-0.136],[8.29,-0.17],[8.42,-0.119],[8.55,-0.221],[8.66,0.034],[8.78,-0.204],[8.91,-0.221],[9.04,-0.068],[9.17,-0.17],[9.32,0.254],[9.41,0.034],[9.51,0.152],[9.61,-0.017],[9.71,0.118],[9.79,0.051],[9.86,0.152],[9.97,-0.034],[10.07,-0.017],[10.18,-0.051],[10.30,0.034],[10.43,-0.017],[10.54,-0.153],[10.62,-0.425],[10.75,-0.374],[10.87,-0.034],[11.00,-0.255],[11.10,-0.153],[11.23,-0.068],[11.34,-0.323],[11.47,-0.357],[11.59,-0.119],[11.70,-0.391],[11.83,0.085],[11.95,-0.459],[12.05,0.085],[12.18,-0.221],[12.29,-0.289],[12.41,-0.17],[12.52,-0.051],[12.65,-0.255],[12.73,-0.017],[12.83,-0.255],[12.90,-0.085],[12.99,-0.51]];
const annapolisRun = [[1.00,-0.561],[1.08,-0.628],[1.18,-0.985],[1.26,-0.866],[1.36,-0.323],[1.44,-0.493],[1.54,-0.408],[1.64,-0.493],[1.74,-0.187],[1.85,-0.493],[1.95,-0.221],[2.05,-0.425],[2.16,-0.357],[2.27,-0.425],[2.37,-0.289],[2.47,-0.459],[2.58,-0.391],[2.68,-0.357],[2.78,-0.357],[2.88,-0.272],[2.96,-0.425],[3.04,-1.189],[3.11,-0.425],[3.19,-0.136],[3.29,-0.476],[3.39,-0.459],[3.47,-0.662],[3.57,-0.221],[3.66,-0.459],[3.78,-0.051],[3.88,-0.391],[3.97,-0.17],[4.09,-0.442],[4.20,-0.221],[4.32,-0.357],[4.48,0.085],[4.61,-0.543],[4.79,0.0],[4.92,-0.408],[5.04,-0.238],[5.15,-0.119],[5.28,-0.255],[5.40,-0.187],[5.51,-0.119],[5.64,-0.221],[5.75,-0.238],[5.87,-0.187],[5.98,-0.34],[6.10,-0.221],[6.22,-0.136],[6.33,-0.204],[6.44,-0.085],[6.56,-0.255],[6.67,0.051],[6.80,-0.323],[6.95,-0.459],[7.05,-0.187],[7.14,-0.374],[7.24,-0.051],[7.34,-0.493]];

const baltimoreObs = [[1.00,-0.547],[1.07,-0.639],[1.15,-0.953],[1.20,-1.027],[1.28,-0.713],[1.36,-0.454],[1.44,-0.639],[1.52,-0.417],[1.62,-0.528],[1.72,-0.288],[1.82,-0.454],[1.92,-0.343],[2.01,-0.51],[2.13,-0.417],[2.24,-0.454],[2.34,-0.399],[2.44,-0.454],[2.54,-0.343],[2.65,-0.38],[2.75,-0.362],[2.85,-0.122],[2.93,-0.566],[3.03,-1.009],[3.09,-0.417],[3.14,0.322],[3.24,-0.362],[3.34,-0.38],[3.43,-0.528],[3.53,-0.177],[3.63,-0.362],[3.75,-0.159],[3.84,-0.03],[3.94,-0.362],[4.04,-0.214],[4.15,-0.51],[4.27,-0.251],[4.37,-0.417],[4.50,-0.03],[4.61,-0.492],[4.73,-0.214],[4.82,-0.104],[4.92,-0.362],[5.05,-0.436],[5.18,-0.159],[5.30,-0.233],[5.41,-0.177],[5.53,-0.067],[5.64,-0.214],[5.75,-0.177],[5.87,-0.085],[6.00,-0.085],[6.13,0.063],[6.24,-0.196],[6.34,0.007],[6.46,-0.27],[6.57,-0.067],[6.69,0.063],[6.80,-0.233],[6.90,-0.011],[7.01,-0.288],[7.13,-0.122],[7.24,-0.233],[7.36,-0.048],[7.45,-0.177],[7.57,-0.085],[7.72,0.211],[7.83,-0.196],[7.93,-0.03],[8.04,-0.159],[8.17,-0.122],[8.29,-0.177],[8.42,-0.104],[8.55,-0.233],[8.66,0.044],[8.78,-0.196],[8.91,-0.233],[9.04,-0.011],[9.19,-0.177],[9.32,0.267],[9.42,0.044],[9.52,0.155],[9.61,-0.011],[9.71,0.155],[9.79,0.063],[9.86,0.155],[9.95,-0.011],[10.05,-0.085],[10.15,0.026],[10.25,-0.03],[10.36,0.044],[10.48,-0.048],[10.56,-0.159],[10.62,-0.454],[10.75,-0.38],[10.87,-0.03],[11.00,-0.27],[11.10,-0.159],[11.23,-0.048],[11.34,-0.343],[11.47,-0.399],[11.59,-0.122],[11.70,-0.417],[11.83,0.063],[11.95,-0.528],[12.05,0.1],[12.16,-0.233],[12.27,-0.362],[12.39,-0.196],[12.50,-0.085],[12.62,-0.27],[12.70,-0.011],[12.80,-0.251],[12.88,-0.085],[12.98,-0.51]];
const baltimoreRun = [[1.00,-0.528],[1.08,-0.676],[1.18,-1.046],[1.26,-0.861],[1.36,-0.343],[1.44,-0.454],[1.52,-0.528],[1.62,-0.417],[1.74,-0.177],[1.85,-0.491],[1.95,-0.233],[2.05,-0.417],[2.16,-0.362],[2.27,-0.417],[2.37,-0.306],[2.47,-0.417],[2.57,-0.343],[2.67,-0.38],[2.76,-0.306],[2.86,-0.38],[2.93,-0.343],[3.01,-1.323],[3.09,-0.491],[3.17,-0.14],[3.27,-0.417],[3.37,-0.51],[3.47,-0.676],[3.57,-0.306],[3.66,-0.491],[3.78,-0.03],[3.88,-0.417],[3.97,-0.177],[4.09,-0.473],[4.20,-0.233],[4.30,-0.38],[4.46,0.1],[4.59,-0.566],[4.77,0.007],[4.91,-0.417],[5.02,-0.233],[5.13,-0.104],[5.26,-0.251],[5.38,-0.177],[5.49,-0.122],[5.61,-0.214],[5.72,-0.288],[5.84,-0.233],[5.97,-0.343],[6.08,-0.196],[6.20,-0.14],[6.31,-0.196],[6.42,-0.048],[6.54,-0.251],[6.65,0.063],[6.78,-0.288],[6.93,-0.454],[7.03,-0.196],[7.13,-0.38],[7.23,-0.048],[7.32,-0.491]];

const chesapeakeCityObs = [[1.00,-0.535],[1.07,-0.643],[1.13,-0.828],[1.20,-1.082],[1.26,-0.858],[1.33,-0.458],[1.41,-0.52],[1.49,-0.396],[1.57,-0.427],[1.67,-0.335],[1.77,-0.52],[1.87,-0.304],[1.97,-0.52],[2.06,-0.396],[2.16,-0.535],[2.28,-0.458],[2.39,-0.427],[2.49,-0.504],[2.60,-0.304],[2.72,-0.427],[2.82,-0.365],[2.90,-0.15],[2.96,-0.55],[3.03,-0.797],[3.09,-0.396],[3.16,0.282],[3.24,-0.335],[3.34,-0.273],[3.44,-0.473],[3.52,-0.58],[3.62,-0.211],[3.72,-0.427],[3.83,-0.088],[3.93,-0.396],[4.04,-0.211],[4.16,-0.504],[4.27,-0.273],[4.39,-0.396],[4.50,-0.088],[4.62,-0.504],[4.73,-0.319],[4.85,-0.196],[4.94,-0.396],[5.06,-0.458],[5.19,-0.15],[5.30,-0.288],[5.42,-0.18],[5.55,-0.134],[5.66,-0.211],[5.80,-0.18],[5.91,-0.134],[6.04,-0.15],[6.15,0.005],[6.25,-0.211],[6.36,-0.088],[6.46,-0.288],[6.58,-0.134],[6.70,-0.042],[6.79,-0.273],[6.88,-0.011],[6.99,-0.242],[7.10,-0.134],[7.20,-0.335],[7.30,-0.165],[7.42,-0.211],[7.53,-0.15],[7.63,-0.211],[7.73,0.12],[7.84,-0.211],[7.96,-0.119],[8.07,-0.211],[8.19,-0.165],[8.32,-0.18],[8.43,-0.134],[8.54,-0.211],[8.66,-0.003],[8.77,-0.242],[8.90,-0.258],[9.02,-0.088],[9.15,-0.227],[9.33,0.174],[9.43,-0.026],[9.53,0.051],[9.61,-0.057],[9.69,0.081],[9.77,-0.042],[9.85,0.112],[9.95,-0.103],[10.07,-0.119],[10.20,0.005],[10.30,-0.057],[10.41,-0.042],[10.51,-0.242],[10.59,-0.473],[10.71,-0.396],[10.84,-0.072],[10.95,-0.273],[11.07,-0.165],[11.18,-0.304],[11.29,-0.088],[11.41,-0.411],[11.54,-0.381],[11.65,-0.134],[11.75,-0.396],[11.83,0.081],[11.93,-0.427],[12.05,0.066],[12.16,-0.288],[12.28,-0.381],[12.39,-0.211],[12.49,-0.15],[12.59,-0.335],[12.69,-0.011],[12.78,-0.427],[12.88,-0.119],[12.98,-0.52]];
const chesapeakeCityRun = [[1.00,-0.581],[1.08,-0.612],[1.16,-0.951],[1.25,-0.951],[1.33,-0.427],[1.41,-0.304],[1.49,-0.396],[1.57,-0.35],[1.65,-0.473],[1.74,-0.165],[1.83,-0.458],[1.92,-0.365],[1.98,-0.165],[2.08,-0.396],[2.18,-0.304],[2.28,-0.396],[2.37,-0.258],[2.47,-0.396],[2.58,-0.304],[2.70,-0.273],[2.77,-0.365],[2.90,-0.15],[2.98,-0.396],[3.06,-0.935],[3.17,-0.057],[3.26,-0.504],[3.36,-0.396],[3.49,-0.643],[3.60,-0.242],[3.72,-0.442],[3.86,0.005],[3.96,-0.273],[4.06,-0.134],[4.17,-0.458],[4.29,-0.304],[4.39,-0.35],[4.50,0.136],[4.63,-0.473],[4.81,0.005],[4.94,-0.381],[5.06,-0.165],[5.16,-0.273],[5.26,-0.134],[5.37,-0.227],[5.47,-0.18],[5.57,-0.088],[5.68,-0.258],[5.81,-0.196],[5.91,-0.18],[6.01,-0.335],[6.12,-0.196],[6.24,-0.211],[6.34,-0.042],[6.46,-0.288],[6.58,-0.119],[6.70,-0.042],[6.79,-0.242],[6.91,-0.396],[7.01,-0.18],[7.10,-0.411],[7.24,-0.057],[7.32,-0.488]];

const tolchesterObs = [[1.00,-0.538],[1.08,-0.64],[1.15,-0.827],[1.23,-0.981],[1.31,-0.827],[1.39,-0.435],[1.48,-0.538],[1.57,-0.367],[1.67,-0.504],[1.77,-0.282],[1.87,-0.521],[1.97,-0.299],[2.07,-0.504],[2.18,-0.418],[2.30,-0.47],[2.41,-0.401],[2.51,-0.452],[2.62,-0.299],[2.74,-0.401],[2.84,-0.35],[2.92,-0.146],[3.00,-0.538],[3.07,-0.862],[3.15,0.314],[3.25,-0.333],[3.34,-0.265],[3.44,-0.435],[3.52,-0.521],[3.62,-0.231],[3.72,-0.367],[3.84,-0.078],[3.93,-0.367],[4.05,-0.197],[4.16,-0.504],[4.26,-0.265],[4.38,-0.384],[4.51,-0.044],[4.62,-0.487],[4.72,-0.231],[4.82,-0.146],[4.93,-0.367],[5.07,-0.435],[5.20,-0.112],[5.31,-0.265],[5.44,-0.163],[5.56,-0.095],[5.67,-0.214],[5.80,-0.197],[5.92,-0.146],[6.02,-0.112],[6.16,0.075],[6.26,-0.129],[6.36,-0.027],[6.48,-0.299],[6.59,-0.129],[6.70,0.024],[6.82,-0.231],[6.92,0.058],[7.02,-0.265],[7.13,-0.095],[7.25,-0.214],[7.36,-0.129],[7.48,-0.061],[7.57,-0.197],[7.70,0.178],[7.82,-0.231],[7.92,-0.044],[8.03,-0.163],[8.16,-0.163],[8.30,-0.197],[8.43,-0.146],[8.54,-0.214],[8.66,0.024],[8.77,-0.231],[8.90,-0.231],[9.02,-0.044],[9.15,-0.197],[9.31,0.203],[9.39,0.007],[9.49,0.11],[9.59,-0.044],[9.70,0.075],[9.77,0.024],[9.85,0.126],[9.97,-0.112],[10.10,-0.095],[10.20,0.024],[10.30,-0.061],[10.39,-0.01],[10.51,-0.146],[10.61,-0.435],[10.74,-0.384],[10.87,-0.061],[10.98,-0.265],[11.11,-0.129],[11.25,-0.078],[11.38,-0.333],[11.49,-0.418],[11.61,-0.112],[11.72,-0.418],[11.84,0.058],[11.95,-0.47],[12.07,0.075],[12.18,-0.282],[12.30,-0.214],[12.41,-0.367],[12.52,-0.095],[12.62,-0.214],[12.72,-0.027],[12.82,-0.47],[12.90,-0.129],[13.0,-0.521]];
const tolchesterRun = [[1.00,-0.504],[1.08,-0.606],[1.18,-0.913],[1.26,-0.879],[1.36,-0.333],[1.46,-0.504],[1.56,-0.521],[1.66,-0.401],[1.75,-0.163],[1.85,-0.418],[1.95,-0.197],[2.05,-0.435],[2.16,-0.333],[2.28,-0.384],[2.38,-0.282],[2.49,-0.384],[2.61,-0.299],[2.72,-0.367],[2.82,-0.299],[2.92,-0.231],[3.03,-1.202],[3.13,-0.061],[3.23,-0.367],[3.33,-0.521],[3.43,-0.47],[3.52,-0.623],[3.62,-0.095],[3.74,-0.367],[3.84,-0.044],[3.93,-0.333],[4.05,-0.163],[4.16,-0.435],[4.28,-0.299],[4.39,-0.47],[4.49,0.093],[4.62,-0.538],[4.80,-0.01],[4.92,-0.367],[5.05,-0.401],[5.20,-0.129],[5.31,-0.265],[5.43,-0.18],[5.54,-0.112],[5.67,-0.248],[5.80,-0.214],[5.90,-0.231],[6.02,-0.35],[6.13,-0.231],[6.25,-0.265],[6.36,-0.044],[6.48,-0.316],[6.59,-0.129],[6.70,-0.027],[6.82,-0.333],[6.95,-0.452],[7.05,-0.231],[7.15,-0.435],[7.23,-0.044],[7.31,-0.487]];

const cambridgeObs = [[1.00,-0.541],[1.08,-0.598],[1.16,-0.824],[1.23,-0.881],[1.31,-0.627],[1.38,-0.428],[1.46,-0.499],[1.54,-0.372],[1.64,-0.428],[1.74,-0.316],[1.83,-0.541],[1.93,-0.316],[2.03,-0.485],[2.13,-0.428],[2.24,-0.442],[2.34,-0.4],[2.44,-0.471],[2.55,-0.316],[2.65,-0.428],[2.75,-0.372],[2.85,-0.245],[2.93,-0.457],[3.01,-0.57],[3.08,-0.372],[3.14,0.308],[3.24,-0.372],[3.34,-0.259],[3.43,-0.428],[3.53,-0.146],[3.63,-0.344],[3.75,-0.117],[3.84,-0.033],[3.94,-0.344],[4.04,-0.231],[4.15,-0.485],[4.27,-0.259],[4.37,-0.4],[4.50,-0.061],[4.61,-0.457],[4.73,-0.202],[4.82,-0.132],[4.92,-0.344],[5.05,-0.442],[5.18,-0.174],[5.30,-0.231],[5.41,-0.188],[5.53,-0.146],[5.64,-0.217],[5.75,-0.202],[5.87,-0.132],[6.00,-0.117],[6.13,0.038],[6.24,-0.174],[6.34,-0.047],[6.46,-0.259],[6.57,-0.117],[6.69,-0.018],[6.80,-0.202],[6.90,-0.033],[7.01,-0.273],[7.13,-0.146],[7.24,-0.259],[7.36,-0.089],[7.45,-0.202],[7.57,-0.132],[7.70,0.095],[7.81,-0.231],[7.91,-0.117],[8.03,-0.217],[8.16,-0.16],[8.29,-0.202],[8.42,-0.146],[8.55,-0.231],[8.66,-0.018],[8.78,-0.202],[8.91,-0.259],[9.04,-0.075],[9.17,-0.202],[9.32,0.208],[9.41,0.01],[9.51,0.081],[9.61,-0.061],[9.71,0.052],[9.79,-0.004],[9.86,0.109],[9.97,-0.061],[10.07,-0.089],[10.18,-0.033],[10.30,0.024],[10.43,-0.061],[10.54,-0.174],[10.62,-0.428],[10.75,-0.372],[10.87,-0.047],[11.00,-0.273],[11.10,-0.174],[11.23,-0.132],[11.34,-0.358],[11.47,-0.386],[11.59,-0.146],[11.70,-0.415],[11.83,0.066],[11.95,-0.372],[12.05,0.038],[12.18,-0.259],[12.29,-0.344],[12.41,-0.202],[12.52,-0.089],[12.65,-0.259],[12.73,-0.061],[12.83,-0.259],[12.90,-0.146],[12.99,-0.499]];
const cambridgeRun = [[1.00,-0.513],[1.08,-0.598],[1.18,-0.895],[1.26,-0.739],[1.36,-0.344],[1.44,-0.457],[1.54,-0.4],[1.64,-0.457],[1.74,-0.202],[1.85,-0.457],[1.95,-0.202],[2.05,-0.4],[2.16,-0.358],[2.27,-0.414],[2.37,-0.33],[2.47,-0.442],[2.58,-0.386],[2.68,-0.372],[2.78,-0.386],[2.88,-0.287],[2.96,-0.428],[3.04,-0.952],[3.11,-0.4],[3.19,-0.089],[3.29,-0.428],[3.39,-0.428],[3.47,-0.655],[3.57,-0.231],[3.66,-0.428],[3.78,-0.089],[3.88,-0.344],[3.97,-0.174],[4.09,-0.428],[4.20,-0.259],[4.32,-0.344],[4.48,0.066],[4.61,-0.513],[4.79,-0.018],[4.92,-0.372],[5.04,-0.273],[5.15,-0.174],[5.28,-0.259],[5.40,-0.231],[5.51,-0.174],[5.64,-0.301],[5.75,-0.287],[5.87,-0.245],[5.98,-0.386],[6.10,-0.259],[6.22,-0.202],[6.33,-0.103],[6.44,-0.089],[6.56,-0.301],[6.67,-0.103],[6.80,-0.344],[6.95,-0.457],[7.05,-0.188],[7.14,-0.4],[7.24,-0.061],[7.34,-0.485]];

const bishopsObs = [[1.00,-0.557],[1.08,-0.636],[1.15,-0.768],[1.23,-0.887],[1.31,-0.689],[1.38,-0.424],[1.46,-0.504],[1.54,-0.371],[1.64,-0.451],[1.74,-0.319],[1.83,-0.53],[1.93,-0.292],[2.03,-0.49],[2.13,-0.451],[2.24,-0.464],[2.34,-0.424],[2.44,-0.49],[2.55,-0.332],[2.65,-0.451],[2.75,-0.385],[2.85,-0.252],[2.93,-0.424],[3.01,-0.596],[3.08,-0.358],[3.14,0.29],[3.24,-0.358],[3.34,-0.266],[3.43,-0.424],[3.53,-0.187],[3.63,-0.345],[3.75,-0.134],[3.84,-0.081],[3.94,-0.358],[4.04,-0.239],[4.15,-0.477],[4.27,-0.252],[4.37,-0.385],[4.50,-0.054],[4.61,-0.451],[4.73,-0.213],[4.82,-0.134],[4.92,-0.345],[5.05,-0.424],[5.18,-0.187],[5.30,-0.239],[5.41,-0.2],[5.53,-0.134],[5.64,-0.226],[5.75,-0.2],[5.87,-0.134],[6.00,-0.134],[6.13,0.038],[6.24,-0.173],[6.34,-0.041],[6.46,-0.266],[6.57,-0.107],[6.69,-0.015],[6.80,-0.213],[6.90,-0.028],[7.01,-0.266],[7.13,-0.134],[7.24,-0.252],[7.36,-0.107],[7.45,-0.213],[7.57,-0.147],[7.72,0.078],[7.83,-0.239],[7.93,-0.081],[8.04,-0.213],[8.17,-0.187],[8.29,-0.213],[8.42,-0.16],[8.55,-0.239],[8.66,-0.015],[8.78,-0.213],[8.91,-0.252],[9.04,-0.067],[9.19,-0.213],[9.32,0.217],[9.42,0.052],[9.52,0.105],[9.61,-0.054],[9.71,0.078],[9.79,0.025],[9.86,0.105],[9.95,-0.054],[10.05,-0.12],[10.15,-0.001],[10.25,-0.081],[10.36,0.038],[10.48,-0.054],[10.56,-0.16],[10.62,-0.424],[10.75,-0.345],[10.87,-0.041],[11.00,-0.266],[11.10,-0.147],[11.23,-0.134],[11.34,-0.319],[11.47,-0.398],[11.59,-0.147],[11.70,-0.411],[11.83,0.052],[11.95,-0.345],[12.05,0.038],[12.16,-0.266],[12.27,-0.345],[12.39,-0.173],[12.50,-0.028],[12.62,-0.266],[12.70,-0.107],[12.80,-0.292],[12.88,-0.147],[12.98,-0.49]];
const bishopsRun = [[1.00,-0.557],[1.08,-0.609],[1.18,-0.768],[1.26,-0.729],[1.36,-0.345],[1.44,-0.424],[1.54,-0.504],[1.64,-0.424],[1.74,-0.226],[1.83,-0.49],[1.93,-0.213],[2.03,-0.424],[2.14,-0.371],[2.26,-0.424],[2.36,-0.345],[2.45,-0.477],[2.57,-0.371],[2.67,-0.424],[2.76,-0.358],[2.86,-0.371],[2.93,-0.358],[3.06,-0.742],[3.17,-0.147],[3.27,-0.451],[3.37,-0.332],[3.47,-0.676],[3.57,-0.226],[3.66,-0.345],[3.78,-0.054],[3.88,-0.332],[3.97,-0.187],[4.09,-0.411],[4.20,-0.239],[4.30,-0.345],[4.46,0.038],[4.59,-0.53],[4.77,-0.041],[4.91,-0.345],[5.02,-0.279],[5.13,-0.173],[5.26,-0.266],[5.38,-0.226],[5.49,-0.173],[5.61,-0.319],[5.72,-0.292],[5.84,-0.252],[5.97,-0.385],[6.08,-0.239],[6.20,-0.2],[6.31,-0.292],[6.42,-0.081],[6.54,-0.292],[6.65,-0.067],[6.78,-0.358],[6.93,-0.451],[7.03,-0.213],[7.13,-0.398],[7.23,-0.081],[7.32,-0.477]];

const obsSeries = [southbankObs, damesObs, null, wilmingtonObs, moneyObs, cbbtObs, sewellsObs, yorktownObs, windmillObs, lewisettaObs, dahlgrenObs, null, washingtonObs, solomonsObs, annapolisObs, baltimoreObs, chesapeakeCityObs, tolchesterObs, cambridgeObs, bishopsObs];
const runSeries = [southbankRun, damesRun, navyRun, wilmingtonRun, moneyRun, cbbtRun, sewellsRun, yorktownRun, windmillRun, lewisettaRun, dahlgrenRun, rappahannockRun, washingtonRun, solomonsRun, annapolisRun, baltimoreRun, chesapeakeCityRun, tolchesterRun, cambridgeRun, bishopsRun];

// ---------------- LAYOUT / STYLE ----------------
const FONT = '"DejaVu Sans", "Liberation Sans", sans-serif';
const colLeft = [87.5, 1368, 2650, 3937];
const rowTop = [37, 424, 811, 1198, 1585];
const PW = 1209, PH = 327;
const FS = 13.9, TFS = 16.7;

// map the 5150x1950 design onto the whole CSS viewport the browser provides
const host = document.getElementById('c');
const wrap = document.getElementById('wrap');
const vw = window.innerWidth || 5150, vh = window.innerHeight || 1950;
const sx = vw / 5150, sy = vh / 1950;
wrap.style.width = vw + 'px';
wrap.style.height = vh + 'px';
if (Math.abs(sx - 1) > 0.002 || Math.abs(sy - 1) > 0.002) host.style.transform = 'scale(' + sx + ',' + sy + ')';

const ctx = document.createElement('canvas').getContext('2d');
ctx.font = FS + 'px ' + FONT;
const fmt = (v, d) => {
  let s = Number(v).toFixed(d);
  if (/^-0\.?0*$/.test(s)) s = s.slice(1);
  return s.replace('-', '\u2212');
};

const grids = [], xAxes = [], yAxes = [], titleOpts = [], series = [];
titles.forEach((t, i) => {
  const r = Math.floor(i / 4), c = i % 4;
  const left = colLeft[c], top = rowTop[r];
  grids.push({ left: left, top: top, width: PW, height: PH, show: true, borderColor: '#000', borderWidth: 1,
               backgroundColor: 'transparent', containLabel: false, outerBoundsMode: 'none' });
  titleOpts.push({ text: t, left: left + PW / 2, top: top - 27, textAlign: 'center',
                   textStyle: { fontSize: TFS, fontWeight: 'normal', color: '#000', fontFamily: FONT } });
  xAxes.push({ type: 'value', gridIndex: i, min: xRange[0], max: xRange[1],
    axisLine: { show: false, onZero: false }, splitLine: { show: false },
    axisTick: { show: true, inside: false, length: 5, lineStyle: { color: '#000', width: 1 }, customValues: xTicks },
    axisLabel: { show: true, customValues: xTicks, margin: 10, fontSize: FS, color: '#000', fontFamily: FONT,
                 formatter: v => String(Math.round(v)) } });
  const dec = yDecimals[i];
  const maxW = Math.max(...yTicks[i].map(v => ctx.measureText(fmt(v, dec)).width));
  yAxes.push({ type: 'value', gridIndex: i, min: yLimits[i][0], max: yLimits[i][1],
    name: 'Elevation (m)', nameLocation: 'middle', nameGap: 15.5 + maxW, nameMoveOverlap: false,
    nameTextStyle: { fontSize: FS, color: '#000', fontFamily: FONT },
    axisLine: { show: false, onZero: false }, splitLine: { show: false },
    axisTick: { show: true, inside: false, length: 5, lineStyle: { color: '#000', width: 1 }, customValues: yTicks[i] },
    axisLabel: { show: true, customValues: yTicks[i], margin: 10, fontSize: FS, color: '#000', fontFamily: FONT,
                 formatter: v => fmt(v, dec) } });
  if (obsSeries[i]) {
    series.push({ type: 'line', name: seriesNames[0], xAxisIndex: i, yAxisIndex: i, data: obsSeries[i],
      symbol: 'none', showSymbol: false, smooth: 0.4, smoothMonotone: 'x', z: 2,
      lineStyle: { color: '#ff0000', width: 2, type: [13, 3.5, 2, 3.5] }, itemStyle: { color: '#ff0000' } });
  }
  series.push({ type: 'line', name: seriesNames[1], xAxisIndex: i, yAxisIndex: i, data: runSeries[i],
    symbol: 'none', showSymbol: false, smooth: 0.4, smoothMonotone: 'x', z: 3,
    lineStyle: { color: '#0000ff', width: 1.1 }, itemStyle: { color: '#0000ff' } });
});

const chart = echarts.init(host, null, { renderer: 'canvas', width: 5150, height: 1950 });
chart.setOption({
  backgroundColor: '#ffffff',
  animation: false,
  title: titleOpts,
  grid: grids,
  xAxis: xAxes,
  yAxis: yAxes,
  legend: {
    show: true, orient: 'vertical', right: 5150 - 1285, top: 44,
    data: [
      { name: seriesNames[0], icon: 'path://M0,0h15v2h-15z M18,0h2v2h-2z M23,0h5v2h-5z', itemStyle: { color: '#ff0000' } },
      { name: seriesNames[1], icon: 'path://M0,0.5h28v1h-28z', itemStyle: { color: '#0000ff' } }
    ],
    itemWidth: 28, itemHeight: 2, itemGap: 6, padding: [6, 7, 6, 7],
    textStyle: { fontSize: FS, color: '#000', fontFamily: FONT, lineHeight: 16 },
    borderColor: '#cccccc', borderWidth: 1, borderRadius: 4, backgroundColor: 'rgba(255,255,255,0.8)',
    selectedMode: false
  },
  series: series
});
</script>
</body></html>
